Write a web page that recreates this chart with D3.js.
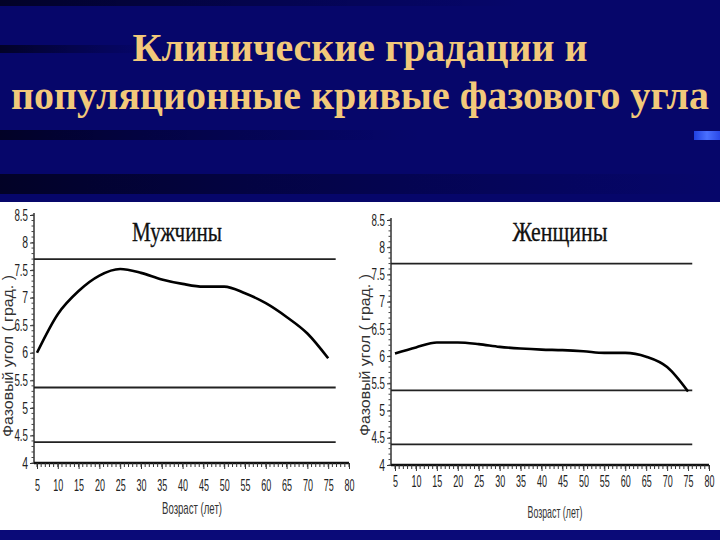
<!DOCTYPE html>
<html><head><meta charset="utf-8">
<script src="https://cdn.jsdelivr.net/npm/d3@7"></script>
<style>body{margin:0;background:#000066}svg{display:block}</style>
</head><body>
<script>
// ---- data ----
const ages = [5,10,15,20,25,30,35,40,45,50,55,60,65,70,75];
const menValues   = [6.0,6.7,7.12,7.4,7.52,7.45,7.33,7.25,7.2,7.2,7.08,6.9,6.65,6.35,5.9];
const womenValues = [6.05,6.16,6.25,6.25,6.22,6.17,6.14,6.12,6.11,6.09,6.06,6.06,5.99,5.8,5.35];
const gradations  = [7.7,5.37,4.38];
const yTicks = [4,4.5,5,5.5,6,6.5,7,7.5,8,8.5];
const xTicks = [5,10,15,20,25,30,35,40,45,50,55,60,65,70,75,80];
const titleLines = ["Клинические градации и","популяционные кривые фазового угла"];
const panelTitles = ["Мужчины","Женщины"];
const yLabel = "Фазовый угол ( град. )";
const xLabel = "Возраст (лет)";

const W=720,H=540;
const svg=d3.select("body").append("svg").attr("width",W).attr("height",H);
const defs=svg.append("defs");

// squeeze a text horizontally to a target width (keeps its anchor point)
function squeeze(node, target, extra){
  const n=node.getComputedTextLength();
  const s=Math.min(1.5, target/n);
  const x=+(node.getAttribute("x")||0);
  node.setAttribute("x", x/s);
  node.setAttribute("transform", (extra||"")+` scale(${s},1)`);
}

// background
svg.append("rect").attr("width",W).attr("height",H).attr("fill","#06066a");
const sg=defs.append("linearGradient").attr("id","streak");
sg.append("stop").attr("offset","0%").attr("stop-color","#000010").attr("stop-opacity",0.75);
sg.append("stop").attr("offset","60%").attr("stop-color","#000020").attr("stop-opacity",0.3);
sg.append("stop").attr("offset","100%").attr("stop-color","#000030").attr("stop-opacity",0);
[[0,6,520],[45,8,150],[130,10,420],[174,20,720]].forEach(([y,h,w])=>{
  svg.append("rect").attr("x",0).attr("y",y).attr("width",w).attr("height",h).attr("fill","url(#streak)");
});
const bg=defs.append("linearGradient").attr("id","bsq");
bg.append("stop").attr("offset","0%").attr("stop-color","#2040e0");
bg.append("stop").attr("offset","50%").attr("stop-color","#4a70ff");
bg.append("stop").attr("offset","100%").attr("stop-color","#2a48e8");
svg.append("rect").attr("x",694).attr("y",131).attr("width",26).attr("height",9).attr("fill","url(#bsq)");

// title
[[titleLines[0],61,455],[titleLines[1],109,698]].forEach(([t,yy,w])=>{
  const el=svg.append("text").attr("x",360).attr("y",yy).attr("text-anchor","middle")
    .attr("font-family","Liberation Serif, Times New Roman, serif").attr("font-weight","bold")
    .attr("font-size",41).attr("fill","#f2c97a").text(t);
  squeeze(el.node(), w);
});

// white area
svg.append("rect").attr("x",0).attr("y",202).attr("width",W).attr("height",328).attr("fill","#ffffff");
svg.append("rect").attr("x",0).attr("y",530).attr("width",W).attr("height",10).attr("fill","#0a0a78");

const tickFont="Liberation Sans, Arial, sans-serif";
function styleTicks(sel, fs, perChar){
  sel.attr("font-family",tickFont).attr("font-size",fs).attr("fill","#222")
    .each(function(){ const t=this.textContent; squeeze(this, t.replace(".","").length*perChar + (t.includes(".")?2:0)); });
}

function panel(cfg, values, title){
  const g=svg.append("g");
  const x=d3.scaleLinear().domain([5,80]).range(cfg.xr);
  const y=d3.scaleLinear().domain([4,8.5]).range(cfg.yr);
  const ax=cfg.axisX, ay=cfg.yr[0];

  // y axis
  const yAxis=d3.axisLeft(y).tickValues(yTicks).tickSize(4).tickPadding(2).tickFormat(d3.format("~g"));
  const ya=g.append("g").attr("transform",`translate(${ax},0)`).call(yAxis);
  ya.attr("font-size",null);
  ya.select(".domain").attr("stroke","#333").attr("stroke-width",1.5).attr("d",`M0,${y(8.5)-2}V${ay}`);
  styleTicks(ya.selectAll("text"),16,5.8);
  ya.selectAll(".tick line").attr("stroke","#333");
  const minorY=d3.range(40,86).map(d=>d/10);
  g.append("g").selectAll("line").data(minorY).join("line")
    .attr("x1",ax-2.5).attr("x2",ax).attr("y1",d=>y(d)).attr("y2",d=>y(d)).attr("stroke","#444").attr("stroke-width",1);

  // x axis
  const xAxis=d3.axisBottom(x).tickValues(xTicks).tickSize(6).tickPadding(cfg.xPad);
  const xa=g.append("g").attr("transform",`translate(0,${ay})`).call(xAxis);
  xa.attr("font-size",null);
  xa.select(".domain").attr("stroke","#111").attr("stroke-width",2.5).attr("d",`M${ax},0H${x(80)}`);
  styleTicks(xa.selectAll("text"),16,5);
  xa.selectAll(".tick line").attr("stroke","#333");
  const minorX=d3.range(5,81);
  g.append("g").selectAll("line").data(minorX).join("line")
    .attr("x1",d=>x(d)).attr("x2",d=>x(d)).attr("y1",ay).attr("y2",ay+4).attr("stroke","#333").attr("stroke-width",1);

  // gradation lines
  g.append("g").selectAll("line").data(gradations).join("line")
    .attr("x1",ax).attr("x2",x(cfg.lineEnd)).attr("y1",d=>y(d)).attr("y2",d=>y(d))
    .attr("stroke","#222").attr("stroke-width",1.8);

  // curve
  const line=d3.line().x(d=>x(d[0])).y(d=>y(d[1])).curve(d3.curveMonotoneX);
  g.append("path").datum(ages.map((a,i)=>[a,values[i]])).attr("d",line)
    .attr("fill","none").attr("stroke","#000").attr("stroke-width",2.6);

  // titles
  const tt=g.append("text").attr("x",cfg.titleX).attr("y",241).attr("text-anchor","middle")
    .attr("font-family","Liberation Serif, Times New Roman, serif").attr("font-size",27)
    .attr("fill","#111").attr("stroke","#111").attr("stroke-width",0.3).text(title);
  squeeze(tt.node(), cfg.titleW);
  const yl=g.append("text").attr("x",0).attr("y",0)
    .attr("text-anchor","middle").attr("font-family",tickFont).attr("font-size",14)
    .attr("fill","#333").text(yLabel);
  squeeze(yl.node(), 162, `translate(${cfg.ylabX},${cfg.ylabY}) rotate(-90)`);
  const xl=g.append("text").attr("x",cfg.xlabX).attr("y",cfg.xlabY).attr("text-anchor","middle")
    .attr("font-family",tickFont).attr("font-size",16).attr("fill","#333").text(xLabel);
  squeeze(xl.node(), cfg.xlabW);
}

panel({xr:[37,349], yr:[463,215], axisX:34, lineEnd:76.8, xPad:11, titleX:177, titleW:90, ylabX:13, ylabY:356, xlabX:192, xlabY:514, xlabW:60}, menValues, panelTitles[0]);
panel({xr:[395,709], yr:[465,220], axisX:391, lineEnd:76, xPad:5, titleX:560, titleW:95, ylabX:370, ylabY:355, xlabX:555, xlabY:518, xlabW:55}, womenValues, panelTitles[1]);
</script>
</body></html>
